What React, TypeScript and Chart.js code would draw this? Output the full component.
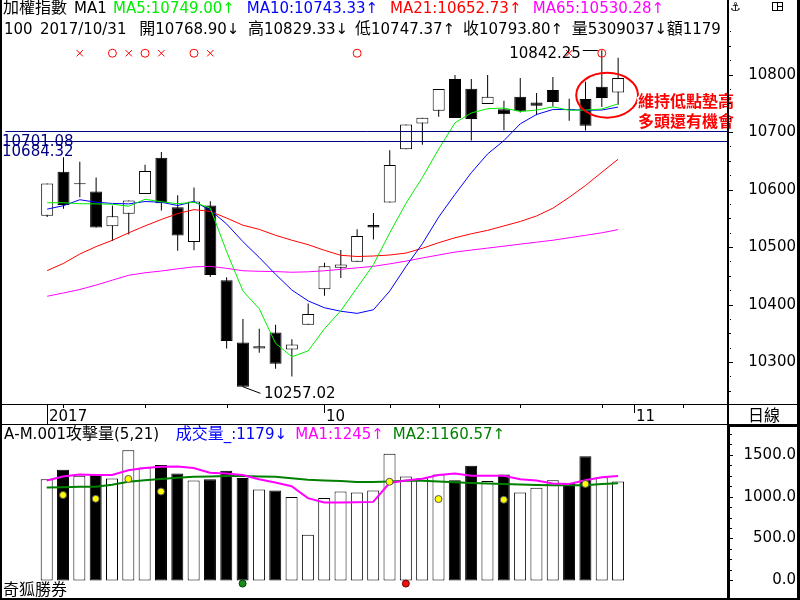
import React, { useEffect, useRef } from 'react';
import { Chart, registerables } from 'chart.js';

Chart.register(...registerables);

// ---------------- data ----------------
const OPEN = [10554.4, 10631.0, 10609.0, 10596.7, 10536.2, 10557.8, 10592.1, 10655.1, 10569.3, 10508.7, 10572.2, 10442.4, 10333.8, 10323.5, 10351.4, 10321.8, 10364.7, 10426.4, 10464.1, 10474.4, 10538.4, 10577.4, 10670.0, 10714.6, 10736.9, 10792.3, 10775.1, 10748.9, 10739.6, 10761.4, 10751.1, 10772.9, 10737.8, 10757.5, 10778.6, 10768.90];
const HIGH = [10610.5, 10656.3, 10648.2, 10620.7, 10572.2, 10580.8, 10643.0, 10665.3, 10589.9, 10603.6, 10579.6, 10447.5, 10375.0, 10357.8, 10364.7, 10339.4, 10401.7, 10472.7, 10495.0, 10531.0, 10559.0, 10668.3, 10712.9, 10724.9, 10774.6, 10799.1, 10792.3, 10799.1, 10754.5, 10794.0, 10767.8, 10795.7, 10758.0, 10787.6, 10842.25, 10829.33];
const LOW = [10552.1, 10566.4, 10586.4, 10533.8, 10510.5, 10521.8, 10592.1, 10563.6, 10493.3, 10494.3, 10448.0, 10323.5, 10257.02, 10316.0, 10288.5, 10274.8, 10364.7, 10415.4, 10446.3, 10474.4, 10513.2, 10577.4, 10670.0, 10677.9, 10726.6, 10724.2, 10685.4, 10748.9, 10703.1, 10734.0, 10729.3, 10744.3, 10719.7, 10702.6, 10743.7, 10747.37];
const CLOSE = [10610.5, 10573.2, 10610.8, 10533.8, 10553.3, 10580.8, 10632.2, 10576.2, 10520.1, 10579.1, 10451.4, 10336.5, 10257.02, 10327.4, 10297.1, 10330.3, 10383.5, 10466.4, 10469.8, 10519.0, 10533.8, 10642.5, 10712.9, 10724.9, 10774.6, 10724.2, 10722.5, 10761.4, 10731.0, 10736.2, 10745.5, 10752.3, 10739.6, 10711.1, 10759.2, 10793.80];

const MA5 = [10577.0, 10577.0, 10575.3, 10575.0, 10574.4, 10571.0, 10583.0, 10578.7, 10575.3, 10577.9, 10567.6, 10492.1, 10423.5, 10392.6, 10332.6, 10309.1, 10319.4, 10357.8, 10389.2, 10429.2, 10469.3, 10524.7, 10576.2, 10620.8, 10670.5, 10716.0, 10733.1, 10740.5, 10741.7, 10735.7, 10738.2, 10743.7, 10737.9, 10738.2, 10740.0, 10749.00];
const MA10 = [10565.9, 10571.9, 10582.2, 10577.9, 10575.8, 10575.0, 10579.1, 10577.9, 10572.2, 10579.1, 10564.1, 10540.1, 10509.3, 10481.8, 10452.6, 10425.2, 10406.3, 10394.3, 10388.3, 10384.6, 10390.9, 10423.5, 10466.4, 10505.8, 10552.1, 10591.6, 10629.3, 10661.9, 10685.1, 10714.2, 10730.5, 10739.1, 10739.1, 10737.9, 10738.2, 10743.33];
const MA21 = [10459.0, 10471.5, 10487.8, 10500.7, 10511.8, 10524.7, 10536.7, 10547.9, 10558.1, 10565.0, 10561.9, 10550.4, 10537.9, 10530.7, 10520.4, 10511.8, 10504.1, 10494.2, 10485.6, 10483.5, 10484.4, 10486.1, 10489.5, 10497.8, 10507.5, 10516.1, 10523.0, 10529.0, 10536.7, 10544.4, 10554.0, 10567.5, 10586.4, 10607.0, 10630.0, 10652.73];
const MA65 = [10414.4, 10420.1, 10426.1, 10433.8, 10442.4, 10450.9, 10455.2, 10458.3, 10462.1, 10465.5, 10466.4, 10462.9, 10458.7, 10457.8, 10457.3, 10456.1, 10456.9, 10458.7, 10461.2, 10463.8, 10466.4, 10470.7, 10475.5, 10481.0, 10486.1, 10491.2, 10494.7, 10498.1, 10501.5, 10505.0, 10508.4, 10511.8, 10516.1, 10520.4, 10524.7, 10530.28];

const VOLUME = [1207, 1320, 1249, 1264, 1215, 1553, 1346, 1376, 1275, 1193, 1207, 1309, 1222, 1084, 1072, 994, 544, 982, 1061, 1050, 1072, 1511, 1241, 1219, 1264, 1196, 1368, 1185, 1264, 1050, 1106, 1196, 1162, 1481, 1230, 1179];
const VOL_MA1 = [1193, 1241, 1264, 1258, 1258, 1314, 1342, 1356, 1359, 1342, 1286, 1275, 1258, 1207, 1168, 1123, 982, 929, 929, 932, 937, 1162, 1191, 1213, 1258, 1275, 1249, 1249, 1249, 1207, 1191, 1157, 1151, 1196, 1230, 1245];
const VOL_MA2 = [1110, 1112, 1117, 1117, 1142, 1176, 1196, 1211, 1224, 1236, 1241, 1247, 1247, 1241, 1236, 1219, 1200, 1193, 1185, 1174, 1174, 1179, 1188, 1188, 1179, 1170, 1162, 1155, 1151, 1145, 1140, 1137, 1137, 1137, 1150, 1160.57];

const CIRCLE_SIGNALS = [4, 6, 9, 19, 34];
const CROSS_SIGNALS = [2, 5, 7, 10, 32];
const SIGNAL_LEVEL = 10837;

const YELLOW_DOT_IDX = [1, 3, 5, 7, 21, 24, 28, 33];
const YELLOW_DOT_VAL = [1019, 974, 1211, 1061, 1177, 971, 963, 1151];
const GREEN_DOT_IDX = [12];
const RED_DOT_IDX = [22];
const BOTTOM_DOT_VAL = -38;

const SUPPORT_LINES = [10701.08, 10684.32];
const PRICE_TICKS = [10300, 10400, 10500, 10600, 10700, 10800];
const VOLUME_TICKS = [0, 500, 1000, 1500];
const WEEK_TICKS = [1, 6, 11, 21, 24, 29, 34, 39];
const MONTH_TICKS = [17, 36];
const MONTH_LABELS = ['10', '11'];
const YEAR_TICK = 0;
const YEAR_LABEL = '2017';

const HIGH_MARK_IDX = 34;
const LOW_MARK_IDX = 12;
const NOTE_X = [32.43, 36.22];
const NOTE_Y = [10803, 10725];
const NOTE_LINES = ['維持低點墊高', '多頭還有機會'];

const DAY_INFO = '100 2017/10/31';
const DAY_VOLUME = '5309037';
const DAY_AMOUNT = '1179';
const VOL_NOW = '1179';

// ---------------- style constants ----------------
const X_MIN = -2.555;
const X_MAX = 41.735;
const PRICE_MIN = 10227;
const PRICE_MAX = 10920;
const VOL_MIN = -174.5;
const VOL_MAX = 1807;

const C_MA5 = '#00ee00';
const C_MA10 = '#0000ff';
const C_MA21 = '#ff0000';
const C_MA65 = '#ff00ff';
const C_NAVY = '#000080';
const C_VGREEN = '#008000';

const LATIN = "15px 'DejaVu Sans'";
const CJK = "16px 'Noto Sans CJK TC'";

function isCjk(ch: string) {
  return ch.charCodeAt(0) >= 0x2e80;
}

function drawMixed(ctx: CanvasRenderingContext2D, text: string, x: number, y: number, color: string) {
  ctx.fillStyle = color;
  ctx.textBaseline = 'alphabetic';
  ctx.textAlign = 'left';
  let cx = x;
  for (const ch of text) {
    const c = isCjk(ch);
    ctx.font = c ? CJK : LATIN;
    ctx.fillText(ch, cx, y);
    cx += ctx.measureText(ch).width;
  }
  return cx;
}

const arrow = (a: number, b: number) => (a >= b ? '↑' : '↓');

const mainDecor = {
  id: 'mainDecor',
  afterDraw(chart: any) {
    const ctx: CanvasRenderingContext2D = chart.ctx;
    const xs = chart.scales.x;
    const ys = chart.scales.y;
    const area = chart.chartArea;
    const last = CLOSE.length - 1;
    ctx.save();

    // support lines with labels
    SUPPORT_LINES.forEach((v) => {
      const y = Math.round(ys.getPixelForValue(v)) + 0.5;
      ctx.strokeStyle = C_NAVY;
      ctx.lineWidth = 1;
      ctx.beginPath();
      ctx.moveTo(area.left, y);
      ctx.lineTo(area.right, y);
      ctx.stroke();
      drawMixed(ctx, v.toFixed(2), 2, y + 14, C_NAVY);
    });

    // high / low marks
    ctx.strokeStyle = '#000';
    ctx.lineWidth = 1;
    const hx = xs.getPixelForValue(HIGH_MARK_IDX);
    const hy = Math.round(ys.getPixelForValue(HIGH[HIGH_MARK_IDX])) + 0.5;
    ctx.beginPath();
    ctx.moveTo(hx - 19, hy);
    ctx.lineTo(hx - 4, hy);
    ctx.stroke();
    ctx.font = LATIN;
    ctx.fillStyle = '#000';
    ctx.textAlign = 'right';
    ctx.textBaseline = 'alphabetic';
    ctx.fillText(HIGH[HIGH_MARK_IDX].toFixed(2), hx - 21, hy + 7);

    const lx = xs.getPixelForValue(LOW_MARK_IDX);
    const ly = ys.getPixelForValue(LOW[LOW_MARK_IDX]);
    ctx.beginPath();
    ctx.moveTo(lx, ly);
    ctx.lineTo(lx + 17.5, ly + 6.6);
    ctx.stroke();
    drawMixed(ctx, LOW[LOW_MARK_IDX].toFixed(2), lx + 21, ly + 11.6, '#000');

    // annotation ellipse + text
    const ex1 = xs.getPixelForValue(NOTE_X[0]);
    const ex2 = xs.getPixelForValue(NOTE_X[1]);
    const ey1 = ys.getPixelForValue(NOTE_Y[0]);
    const ey2 = ys.getPixelForValue(NOTE_Y[1]);
    const ecx = (ex1 + ex2) / 2;
    const ecy = (ey1 + ey2) / 2;
    ctx.strokeStyle = '#ff0000';
    ctx.lineWidth = 2;
    ctx.beginPath();
    ctx.ellipse(ecx, ecy, Math.abs(ex2 - ex1) / 2, Math.abs(ey2 - ey1) / 2, 0, 0, Math.PI * 2);
    ctx.stroke();
    ctx.font = "bold 16px 'Noto Sans CJK TC'";
    ctx.textAlign = 'left';
    ctx.textBaseline = 'middle';
    NOTE_LINES.forEach((t, k) => {
      const ty = ecy + 6 + k * 19.5;
      ctx.lineWidth = 3;
      ctx.strokeStyle = '#ffffff';
      ctx.strokeText(t, ex2, ty);
      ctx.fillStyle = '#ff0000';
      ctx.fillText(t, ex2, ty);
    });

    // header texts (clipped to plot width)
    ctx.save();
    ctx.beginPath();
    ctx.rect(0, 0, 727, 60);
    ctx.clip();
    drawMixed(ctx, '加權指數', 3, 13, '#000');
    drawMixed(ctx, 'MA1', 74, 13, '#000');
    drawMixed(ctx, 'MA5:' + MA5[last].toFixed(2) + arrow(MA5[last], MA5[last - 1]), 113, 13, C_MA5);
    drawMixed(ctx, 'MA10:' + MA10[last].toFixed(2) + arrow(MA10[last], MA10[last - 1]), 246.7, 13, C_MA10);
    drawMixed(ctx, 'MA21:' + MA21[last].toFixed(2) + arrow(MA21[last], MA21[last - 1]), 390, 13, C_MA21);
    drawMixed(ctx, 'MA65:' + MA65[last].toFixed(2) + arrow(MA65[last], MA65[last - 1]), 532.7, 13, C_MA65);
    const segs = [
      '100',
      DAY_INFO.split(' ')[1],
      '開' + OPEN[last].toFixed(2) + '↓',
      '高' + HIGH[last].toFixed(2) + '↓',
      '低' + LOW[last].toFixed(2) + '↑',
      '收' + CLOSE[last].toFixed(2) + '↑',
      '量' + DAY_VOLUME + '↓',
      '額' + DAY_AMOUNT,
    ];
    const segX = [4, 40, 139.3, 248, 355, 463, 571.7, 666.7];
    segs.forEach((s, k) => drawMixed(ctx, s, segX[k], 34, '#000'));
    ctx.restore();

    // right price axis
    ctx.fillStyle = '#000';
    ctx.font = LATIN;
    ctx.textAlign = 'right';
    ctx.textBaseline = 'middle';
    PRICE_TICKS.forEach((v) => {
      const y = Math.round(ys.getPixelForValue(v));
      ctx.fillRect(727, y, 6, 1);
      ctx.fillText(String(v), 796, y + 0.5);
    });
    for (let v = 10250; v <= 10875; v += 25) {
      if (v % 100 === 0) continue;
      const y = Math.round(ys.getPixelForValue(v));
      if (v % 50 === 0) ctx.fillRect(727, y, 4, 1);
      else ctx.fillRect(730, y, 1, 1);
    }

    // time strip
    const b = Math.round(area.bottom);
    ctx.fillRect(0, b, 800, 1);
    WEEK_TICKS.forEach((i) => {
      const x = Math.round(xs.getPixelForValue(i));
      ctx.fillRect(x, b, 1, 4);
    });
    MONTH_TICKS.forEach((i, k) => {
      const x = Math.round(xs.getPixelForValue(i));
      ctx.fillRect(x, b, 1, 9);
      drawMixed(ctx, MONTH_LABELS[k], x + 2, b + 17, '#000');
    });
    const yx = Math.round(xs.getPixelForValue(YEAR_TICK));
    ctx.fillStyle = '#000';
    ctx.fillRect(yx, b, 1, 20);
    drawMixed(ctx, YEAR_LABEL, yx + 2, b + 17, '#000');
    drawMixed(ctx, '日線', 748, b + 17, '#000');

    // frame
    ctx.fillStyle = '#000';
    ctx.fillRect(0, 0, 2, 424);
    ctx.fillRect(797, 0, 3, 424);
    ctx.fillRect(727, 0, 2, 424);

    // small icons top-right
    ctx.font = "12px 'DejaVu Sans'";
    ctx.textAlign = 'left';
    ctx.textBaseline = 'alphabetic';
    ctx.fillText('⚓', 730, 11);
    ctx.strokeStyle = '#000';
    ctx.lineWidth = 1;
    ctx.strokeRect(772.5, 2.5, 10, 8);
    ctx.beginPath();
    ctx.moveTo(777.5, 2.5);
    ctx.lineTo(777.5, 10.5);
    ctx.moveTo(777.5, 6.5);
    ctx.lineTo(782.5, 6.5);
    ctx.stroke();

    ctx.restore();
  },
};

const volDecor = {
  id: 'volDecor',
  afterDraw(chart: any) {
    const ctx: CanvasRenderingContext2D = chart.ctx;
    const vs = chart.scales.y;
    const last = VOLUME.length - 1;
    ctx.save();

    // axis labels + ticks
    ctx.fillStyle = '#000';
    ctx.font = LATIN;
    ctx.textAlign = 'right';
    ctx.textBaseline = 'middle';
    VOLUME_TICKS.forEach((v) => {
      const y = Math.round(vs.getPixelForValue(v));
      ctx.fillRect(727, y, 6, 1);
      ctx.fillText(v.toFixed(1), 796, y + 0.5);
    });
    for (let v = 125; v <= 1750; v += 125) {
      if (v % 500 === 0) continue;
      const y = Math.round(vs.getPixelForValue(v));
      ctx.fillRect(729, y, 3, 1);
    }

    // header
    drawMixed(ctx, 'A-M.001攻擊量(5,21)', 4, 15, '#000');
    drawMixed(ctx, '成交量_:' + VOL_NOW + '↓', 175.7, 15, '#0000ff');
    drawMixed(ctx, 'MA1:' + VOL_MA1[last] + arrow(VOL_MA1[last], VOL_MA1[last - 1]), 295.3, 15, '#ff00ff');
    drawMixed(ctx, 'MA2:' + VOL_MA2[last].toFixed(2) + arrow(VOL_MA2[last], VOL_MA2[last - 1]), 392.7, 15, C_VGREEN);
    drawMixed(ctx, '奇狐勝券', 3, 170.5, '#000');

    // frame
    ctx.fillStyle = '#000';
    ctx.fillRect(0, 0, 728, 1);
    ctx.fillRect(728, 0, 72, 3);
    ctx.fillRect(0, 0, 2, 176);
    ctx.fillRect(797, 0, 3, 176);
    ctx.fillRect(727, 0, 3, 176);
    ctx.fillRect(0, 174, 800, 2);
    ctx.restore();
  },
};

const pts = (arr: number[]) => arr.map((v, i) => ({ x: i, y: v }));

function buildMain(): any {
  const bodyColors = CLOSE.map((c, i) => (c >= OPEN[i] ? '#ffffff' : '#000000'));
  const line = (data: number[], color: string) => ({
    type: 'line',
    data: pts(data),
    borderColor: color,
    borderWidth: 1,
    pointRadius: 0,
    tension: 0,
    fill: false,
    order: 1,
  });
  return {
    type: 'bar',
    data: {
      datasets: [
        {
          type: 'scatter',
          data: CROSS_SIGNALS.map((i) => ({ x: i, y: SIGNAL_LEVEL })),
          pointStyle: 'crossRot',
          pointRadius: 4.5,
          borderColor: '#ff0000',
          backgroundColor: '#ff0000',
          borderWidth: 1,
          order: 0,
        },
        {
          type: 'scatter',
          data: CIRCLE_SIGNALS.map((i) => ({ x: i, y: SIGNAL_LEVEL })),
          pointStyle: 'circle',
          pointRadius: 4,
          borderColor: '#ff0000',
          backgroundColor: 'rgba(0,0,0,0)',
          borderWidth: 1,
          order: 0,
        },
        line(MA5, C_MA5),
        line(MA10, C_MA10),
        line(MA21, C_MA21),
        line(MA65, C_MA65),
        {
          type: 'bar',
          data: CLOSE.map((c, i) => ({ x: i, y: [Math.min(OPEN[i], c), Math.max(OPEN[i], c)] })),
          backgroundColor: bodyColors,
          borderColor: '#000',
          borderWidth: 1,
          borderSkipped: false,
          barThickness: 12,
          grouped: false,
          inflateAmount: 0,
          minBarLength: 1,
          order: 2,
        },
        {
          type: 'bar',
          data: CLOSE.map((_, i) => ({ x: i, y: [LOW[i], HIGH[i]] })),
          backgroundColor: '#000',
          borderWidth: 0,
          barThickness: 1,
          grouped: false,
          inflateAmount: 0,
          order: 3,
        },
      ],
    },
    options: {
      responsive: false,
      animation: false,
      devicePixelRatio: 1,
      events: [],
      layout: { padding: { left: 0, right: 0, top: 0, bottom: 20 } },
      plugins: { legend: { display: false }, tooltip: { enabled: false } },
      scales: {
        x: { type: 'linear', min: X_MIN, max: X_MAX, display: false, offset: false },
        y: {
          type: 'linear',
          position: 'right',
          min: PRICE_MIN,
          max: PRICE_MAX,
          ticks: { display: false },
          grid: { display: false, drawTicks: false },
          border: { display: false },
          afterFit: (s: any) => {
            s.width = 72;
          },
        },
      },
    },
    plugins: [mainDecor],
  };
}

function buildVol(): any {
  const volColors = VOLUME.map((_, i) => (i === 0 || CLOSE[i] >= CLOSE[i - 1] ? '#ffffff' : '#000000'));
  return {
    type: 'bar',
    data: {
      datasets: [
        {
          type: 'scatter',
          data: YELLOW_DOT_IDX.map((i, k) => ({ x: i, y: YELLOW_DOT_VAL[k] })),
          pointStyle: 'circle',
          pointRadius: 3.5,
          backgroundColor: '#ffff00',
          borderColor: '#555555',
          borderWidth: 1,
          order: 0,
        },
        {
          type: 'scatter',
          data: GREEN_DOT_IDX.map((i) => ({ x: i, y: BOTTOM_DOT_VAL })),
          pointStyle: 'circle',
          pointRadius: 3.5,
          backgroundColor: '#1a8a1a',
          borderColor: '#0a400a',
          borderWidth: 1,
          order: 0,
        },
        {
          type: 'scatter',
          data: RED_DOT_IDX.map((i) => ({ x: i, y: BOTTOM_DOT_VAL })),
          pointStyle: 'circle',
          pointRadius: 3.5,
          backgroundColor: '#ee1111',
          borderColor: '#700000',
          borderWidth: 1,
          order: 0,
        },
        {
          type: 'line',
          data: pts(VOL_MA1),
          borderColor: '#ff00ff',
          borderWidth: 2,
          pointRadius: 0,
          tension: 0,
          order: 1,
        },
        {
          type: 'line',
          data: pts(VOL_MA2),
          borderColor: C_VGREEN,
          borderWidth: 2,
          pointRadius: 0,
          tension: 0,
          order: 1,
        },
        {
          type: 'bar',
          data: pts(VOLUME),
          backgroundColor: volColors,
          borderColor: '#000',
          borderWidth: 1,
          borderSkipped: false,
          barThickness: 12,
          grouped: false,
          inflateAmount: 0,
          order: 3,
        },
      ],
    },
    options: {
      responsive: false,
      animation: false,
      devicePixelRatio: 1,
      events: [],
      layout: { padding: 0 },
      plugins: { legend: { display: false }, tooltip: { enabled: false } },
      scales: {
        x: { type: 'linear', min: X_MIN, max: X_MAX, display: false, offset: false },
        y: {
          type: 'linear',
          position: 'right',
          min: VOL_MIN,
          max: VOL_MAX,
          ticks: { display: false },
          grid: { display: false, drawTicks: false },
          border: { display: false },
          afterFit: (s: any) => {
            s.width = 72;
          },
        },
      },
    },
    plugins: [volDecor],
  };
}

export default function App() {
  const mainRef = useRef<HTMLCanvasElement>(null);
  const volRef = useRef<HTMLCanvasElement>(null);

  useEffect(() => {
    const c1 = new Chart(mainRef.current as HTMLCanvasElement, buildMain());
    const c2 = new Chart(volRef.current as HTMLCanvasElement, buildVol());
    return () => {
      c1.destroy();
      c2.destroy();
    };
  }, []);

  return (
    <div
      style={{
        position: 'fixed',
        left: 0,
        top: 0,
        width: 800,
        height: 600,
        background: '#ffffff',
        overflow: 'hidden',
      }}
    >
      <canvas
        ref={mainRef}
        width={800}
        height={424}
        style={{ position: 'absolute', left: 0, top: 0, width: 800, height: 424, display: 'block' }}
      />
      <canvas
        ref={volRef}
        width={800}
        height={176}
        style={{ position: 'absolute', left: 0, top: 424, width: 800, height: 176, display: 'block' }}
      />
    </div>
  );
}
